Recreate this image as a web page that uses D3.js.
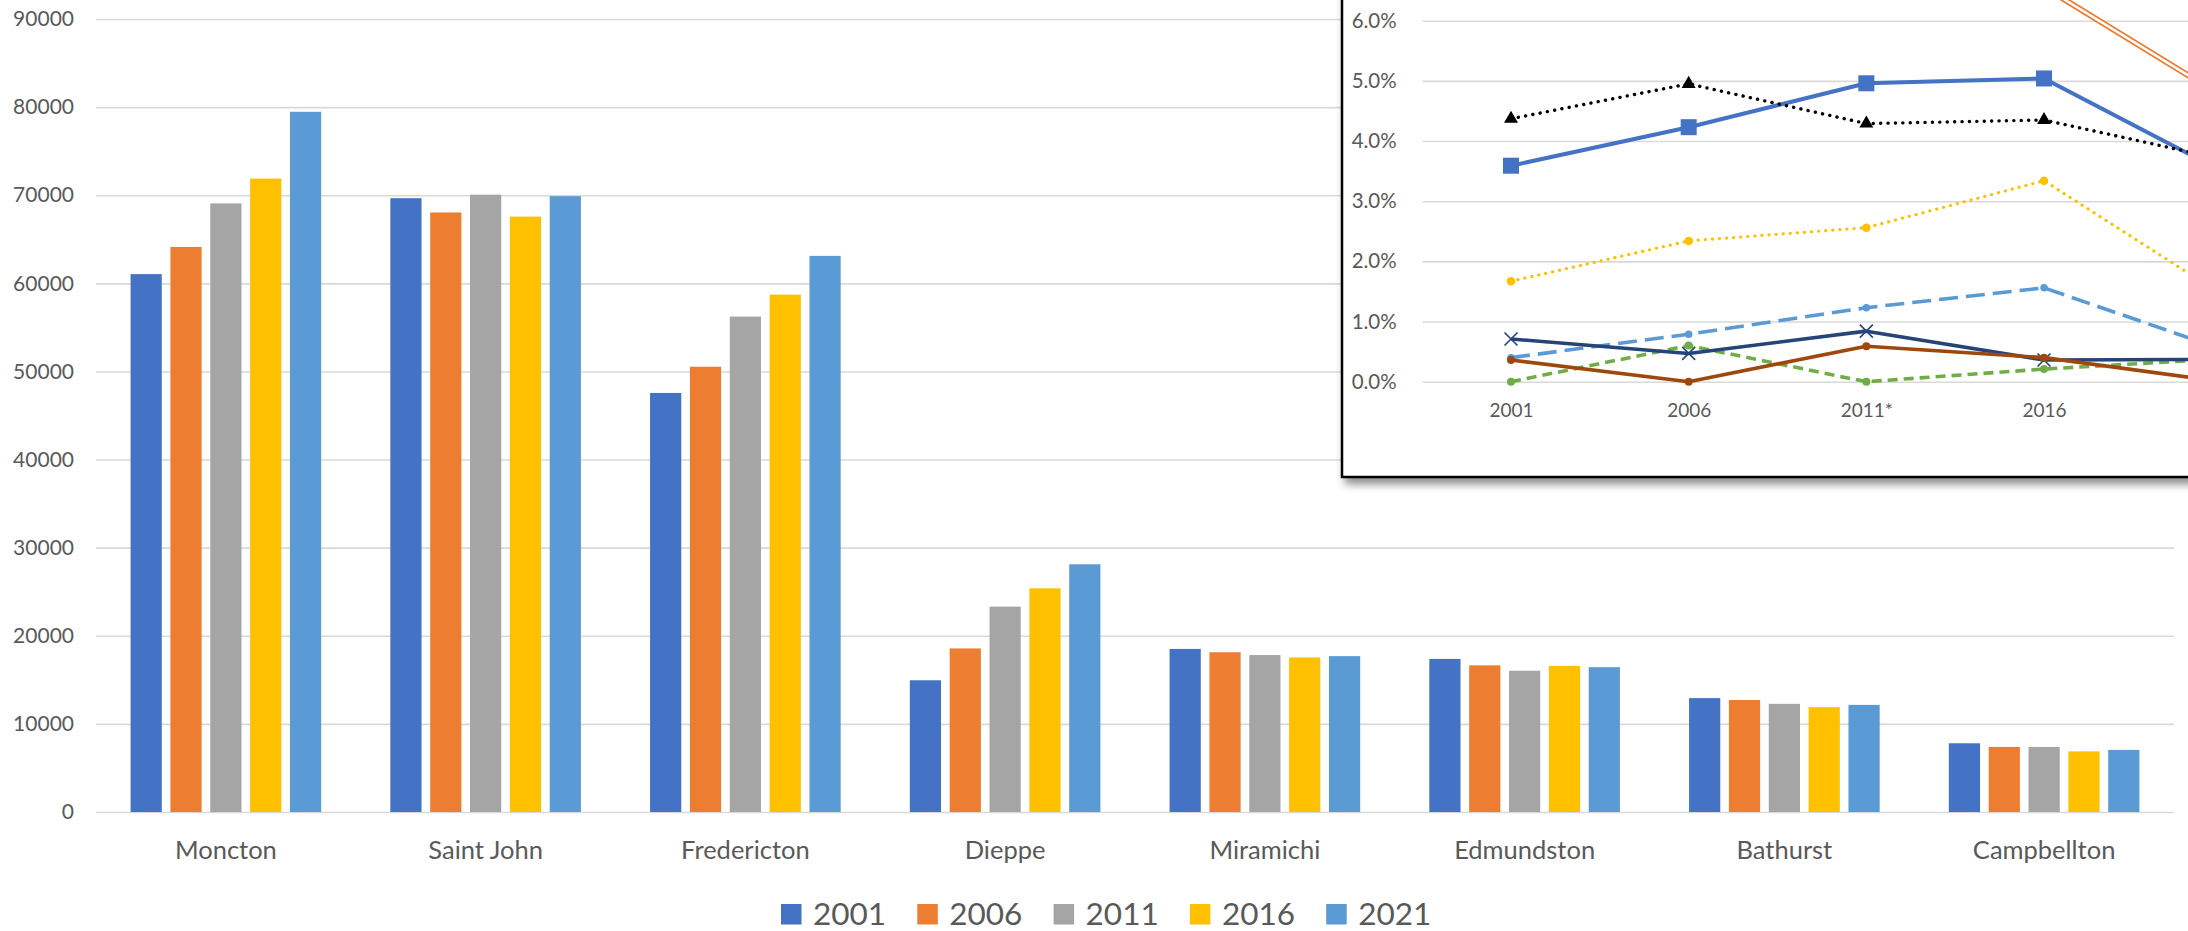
<!DOCTYPE html>
<html>
<head>
<meta charset="utf-8">
<script src="https://cdn.jsdelivr.net/npm/d3@7"></script>
<style>
  html, body { margin: 0; padding: 0; background: #fff; overflow: hidden; }
  text { font-family: Lato, "Open Sans", sans-serif; fill: #595959; }
</style>
</head>
<body>
<svg id="chart" width="2188" height="931"></svg>
<script>
// ---- Population by city and census year ----
const cities = ["Moncton", "Saint John", "Fredericton", "Dieppe", "Miramichi", "Edmundston", "Bathurst", "Campbellton"];
const censusYears = ["2001", "2006", "2011", "2016", "2021"];
const pop2001 = [61046, 69661, 47560, 14951, 18508, 17373, 12924, 7798];
const pop2006 = [64128, 68043, 50535, 18565, 18129, 16643, 12714, 7384];
const pop2011 = [69074, 70063, 56224, 23310, 17811, 16032, 12275, 7385];
const pop2016 = [71889, 67575, 58721, 25384, 17537, 16580, 11897, 6883];
const pop2021 = [79470, 69895, 63116, 28114, 17692, 16437, 12157, 7047];
const popTicks = [0, 10000, 20000, 30000, 40000, 50000, 60000, 70000, 80000, 90000];
const yearColors = ["#4472C4", "#ED7D31", "#A5A5A5", "#FFC000", "#5B9BD5"];

// ---- Inset: share of population (%) by census year ----
const shareYears = ["2001", "2006", "2011*", "2016", "2021"];
const shareYearLabels = ["2001", "2006", "2011*", "2016"];
const shareTicks = [0, 0.01, 0.02, 0.03, 0.04, 0.05, 0.06];
const shareBlue   = [0.0359, 0.0423, 0.0496, 0.0504, 0.0350];
const shareOrange = [null, null, null, 0.0656, 0.0475];
const shareBlack  = [0.0437, 0.0495, 0.0429, 0.0435, 0.0370];
const shareYellow = [0.0167, 0.0234, 0.0256, 0.0334, 0.0145];
const shareSky    = [0.0040, 0.0079, 0.0123, 0.0156, 0.0054];
const shareGreen  = [0.0000, 0.0060, 0.0000, 0.0021, 0.0038];
const shareNavy   = [0.0071, 0.0047, 0.0084, 0.0036, 0.0037];
const shareBrown  = [0.0036, 0.0000, 0.0059, 0.0040, 0.0000];

const svg = d3.select("#chart");
svg.append("rect").attr("width", 2188).attr("height", 931).attr("fill", "#fff");

const defs = svg.append("defs");
const shadow = defs.append("filter").attr("id", "boxShadow")
  .attr("x", "-5%").attr("y", "-5%").attr("width", "115%").attr("height", "120%");
shadow.append("feDropShadow").attr("dx", 4).attr("dy", 6).attr("stdDeviation", 4)
  .attr("flood-color", "#000").attr("flood-opacity", 0.45);

// ================= Main clustered column chart =================
const plot = { left: 96, right: 2174, top: 19, bottom: 812 };
const popSeries = [pop2001, pop2006, pop2011, pop2016, pop2021];

const x0 = d3.scaleBand().domain(cities).range([plot.left, plot.right]).padding(0);
const groupWidth = 190.6;
const x1 = d3.scaleBand().domain(censusYears)
  .range([(x0.bandwidth() - groupWidth) / 2, (x0.bandwidth() + groupWidth) / 2])
  .paddingInner(0.217).paddingOuter(0);
const y = d3.scaleLinear().domain([0, 90000]).range([plot.bottom, plot.top]);

// gridlines
const yAxis = d3.axisLeft(y).tickValues(popTicks).tickSize(-(plot.right - plot.left)).tickPadding(22)
  .tickFormat(d3.format("d"));
const gy = svg.append("g").attr("transform", `translate(${plot.left},0)`).call(yAxis);
gy.select(".domain").remove();
gy.selectAll(".tick line").attr("stroke", "#D9D9D9").attr("stroke-width", 1.6);
gy.selectAll(".tick text").attr("font-size", 21).attr("fill", "#595959")
  .attr("font-family", "Lato, 'Open Sans', sans-serif");

// bars
const groups = svg.append("g").selectAll("g").data(cities).join("g")
  .attr("transform", d => `translate(${x0(d)},0)`);
groups.selectAll("rect")
  .data((c, ci) => censusYears.map((yr, si) => ({ yr, si, v: popSeries[si][ci] })))
  .join("rect")
  .attr("x", d => x1(d.yr))
  .attr("width", x1.bandwidth())
  .attr("y", d => y(d.v))
  .attr("height", d => y(0) - y(d.v))
  .attr("fill", d => yearColors[d.si]);

// category labels
const xAxis = d3.axisBottom(x0).tickSize(0).tickPadding(29);
const gx = svg.append("g").attr("transform", `translate(0,${plot.bottom})`).call(xAxis);
gx.select(".domain").remove();
gx.selectAll(".tick text").attr("font-size", 25.5).attr("fill", "#595959")
  .attr("font-family", "Lato, 'Open Sans', sans-serif");

// legend
const legend = svg.append("g").attr("transform", "translate(781,904)");
const legendStep = 136.3;
const li = legend.selectAll("g").data(censusYears).join("g")
  .attr("transform", (d, i) => `translate(${i * legendStep},0)`);
li.append("rect").attr("width", 20.5).attr("height", 20.5).attr("fill", (d, i) => yearColors[i]);
li.append("text").attr("x", 32).attr("y", 21).attr("font-size", 31.5).text(d => d);

// ================= Inset line chart =================
const box = { left: 1342, top: -40, right: 2400, bottom: 477 };
svg.append("rect")
  .attr("x", box.left).attr("y", box.top)
  .attr("width", box.right - box.left).attr("height", box.bottom - box.top)
  .attr("fill", "#fff").attr("stroke", "#000").attr("stroke-width", 2.5)
  .attr("filter", "url(#boxShadow)");

const inset = svg.append("g");
const ix = d3.scalePoint().domain(shareYears).range([1511, 2221.7]);
const iy = d3.scaleLinear().domain([0, 0.06]).range([381.7, 20.7]);
const gridLeft = 1422.7;

const iyAxis = d3.axisLeft(iy).tickValues(shareTicks).tickSize(-(box.right - gridLeft)).tickPadding(26)
  .tickFormat(d3.format(".1%"));
const giy = inset.append("g").attr("transform", `translate(${gridLeft},0)`).call(iyAxis);
giy.select(".domain").remove();
giy.selectAll(".tick line").attr("stroke", "#D9D9D9").attr("stroke-width", 1.6);
giy.selectAll(".tick text").attr("font-size", 20.5).attr("fill", "#595959")
  .attr("font-family", "Lato, 'Open Sans', sans-serif");

// year labels that fall inside the visible part of the inset
const ixAxis = d3.axisBottom(ix).tickValues(shareYearLabels).tickSize(0).tickPadding(22);
const gix = inset.append("g").attr("transform", `translate(0,${iy(0)})`).call(ixAxis);
gix.select(".domain").remove();
gix.selectAll(".tick text").attr("font-size", 19).attr("fill", "#595959")
  .attr("font-family", "Lato, 'Open Sans', sans-serif");

const lineGen = d3.line()
  .defined(d => d.v !== null)
  .x(d => ix(d.yr))
  .y(d => iy(d.v));
const pts = arr => shareYears.map((yr, i) => ({ yr, v: arr[i] }));

const shareSeries = [
  { values: shareOrange, color: "#ED7D31", width: 6, double: true, marker: null },
  { values: shareBlue,   color: "#4472C4", width: 4, dash: null, marker: "square", msize: 16 },
  { values: shareBlack,  color: "#000000", width: 3.4, dash: "0.1 7.3", cap: "round", marker: "triangle", msize: 13 },
  { values: shareYellow, color: "#FFC000", width: 3.2, dash: "0.1 7", cap: "round", marker: "circle", msize: 8.5 },
  { values: shareSky,    color: "#5B9BD5", width: 3.6, dash: "19 8", marker: "circle", msize: 7.5 },
  { values: shareGreen,  color: "#70AD47", width: 3.6, dash: "10 6", marker: "circle", msize: 8 },
  { values: shareNavy,   color: "#264478", width: 3.6, dash: null, marker: "x", msize: 13 },
  { values: shareBrown,  color: "#9E480E", width: 3.6, dash: null, marker: "circle", msize: 8 }
];

shareSeries.forEach(s => {
  const data = pts(s.values);
  const path = inset.append("path").datum(data).attr("d", lineGen)
    .attr("fill", "none").attr("stroke", s.color).attr("stroke-width", s.width)
    .attr("stroke-linejoin", "round");
  if (s.dash) path.attr("stroke-dasharray", s.dash);
  if (s.cap) path.attr("stroke-linecap", s.cap);
  if (s.double) {
    inset.append("path").datum(data).attr("d", lineGen)
      .attr("fill", "none").attr("stroke", "#fff").attr("stroke-width", s.width * 0.4);
  }
  const shown = data.filter(d => d.v !== null);
  const m = s.msize;
  if (s.marker === "square") {
    inset.append("g").selectAll("rect").data(shown).join("rect")
      .attr("x", d => ix(d.yr) - m / 2).attr("y", d => iy(d.v) - m / 2)
      .attr("width", m).attr("height", m).attr("fill", s.color);
  } else if (s.marker === "circle") {
    inset.append("g").selectAll("circle").data(shown).join("circle")
      .attr("cx", d => ix(d.yr)).attr("cy", d => iy(d.v)).attr("r", m / 2).attr("fill", s.color);
  } else if (s.marker === "triangle") {
    const tri = d3.symbol().type(d3.symbolTriangle).size(m * m * 0.5);
    inset.append("g").selectAll("path").data(shown).join("path")
      .attr("transform", d => `translate(${ix(d.yr)},${iy(d.v)})`)
      .attr("d", tri).attr("fill", s.color);
  } else if (s.marker === "x") {
    const h = m / 2;
    inset.append("g").selectAll("path").data(shown).join("path")
      .attr("d", d => {
        const cx = ix(d.yr), cy = iy(d.v);
        return `M${cx - h},${cy - h}L${cx + h},${cy + h}M${cx - h},${cy + h}L${cx + h},${cy - h}`;
      })
      .attr("stroke", s.color).attr("stroke-width", 1.6).attr("fill", "none");
  }
});
</script>
</body>
</html>
